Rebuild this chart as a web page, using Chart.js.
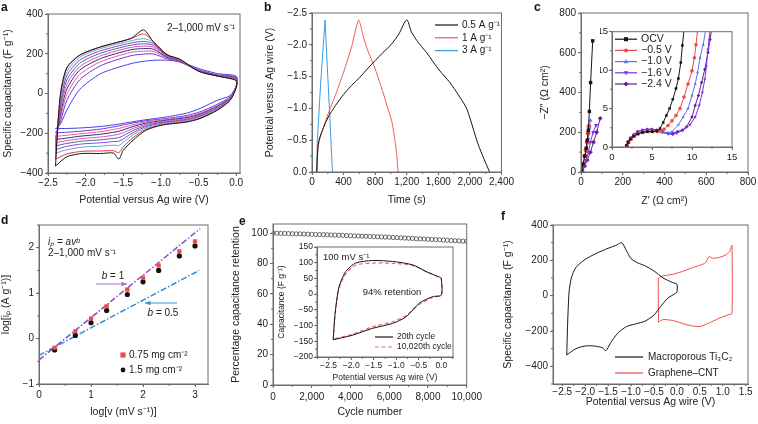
<!DOCTYPE html>
<html>
<head>
<meta charset="utf-8">
<script src="https://cdn.jsdelivr.net/npm/chart.js"></script>
<style>
  body { margin: 0; background: #fff; }
  #fig { position: relative; width: 758px; height: 424px; overflow: hidden; background: #fff; font-family: 'Liberation Sans', Arial, sans-serif; color: #111; }
  #fig canvas { position: absolute; }
  .tag { position: absolute; font-weight: bold; font-size: 12px; line-height: 14px; }
</style>
</head>
<body>
<div id="fig">
  <canvas id="chartA" width="250" height="210" style="left:0;top:0"></canvas>
  <canvas id="chartB" width="253" height="210" style="left:262px;top:0"></canvas>
  <canvas id="chartC" width="221" height="210" style="left:537px;top:0"></canvas>
  <canvas id="chartCin" width="140" height="142" style="left:600px;top:25px"></canvas>
  <canvas id="chartD" width="235" height="214" style="left:0;top:210px"></canvas>
  <canvas id="chartE" width="257" height="214" style="left:228px;top:210px"></canvas>
  <canvas id="chartEin" width="190" height="145" style="left:275px;top:240px"></canvas>
  <canvas id="chartF" width="258" height="214" style="left:500px;top:210px"></canvas>
  <div class="tag" style="left:1px;top:0">a</div>
  <div class="tag" style="left:264px;top:0">b</div>
  <div class="tag" style="left:534px;top:0">c</div>
  <div class="tag" style="left:1px;top:213px">d</div>
  <div class="tag" style="left:239px;top:214px">e</div>
  <div class="tag" style="left:501px;top:209px">f</div>
</div>
<script>
// a: CV loops, 2-1,000 mV/s (outer -> inner)
const cvUpV = [-2.4, -2.37, -2.33, -2.25, -2.08, -1.8, -1.4, -1.23, -1.1, -0.92, -0.75, -0.5, -0.25, 0];
const cvLowV = [0, -0.08, -0.25, -0.48, -0.65, -0.85, -1.0, -1.2, -1.37, -1.5, -1.56, -1.63, -1.8, -2.05, -2.25, -2.4];
const cvUp = [
    [-365, -170, 10, 130, 193, 235, 277, 320, 260, 195, 173, 112, 88, 65],
    [-330, -160, 5, 128, 192, 234, 276, 300, 262, 196, 172, 112, 88, 66],
    [-300, -165, -15, 110, 182, 226, 265, 276, 258, 194, 170, 112, 88, 68],
    [-282, -170, -35, 90, 168, 215, 254, 262, 250, 192, 168, 113, 89, 70],
    [-264, -175, -55, 68, 152, 203, 243, 250, 242, 190, 166, 113, 89, 72],
    [-248, -178, -75, 45, 135, 190, 232, 238, 233, 187, 164, 114, 90, 74],
    [-232, -180, -95, 22, 117, 176, 220, 226, 223, 183, 162, 115, 91, 77],
    [-216, -180, -115, -5, 95, 160, 207, 213, 212, 179, 160, 117, 92, 80],
    [-198, -178, -135, -35, 68, 140, 190, 198, 199, 175, 158, 120, 94, 83],
    [-176, -170, -150, -84, 20, 100, 150, 162, 167, 168, 160, 126, 100, 87]
];
const cvLow = [
    [30, -34, -84, -126, -143, -152, -160, -185, -235, -286, -330, -300, -302, -302, -318, -365],
    [31, -32, -82, -124, -141, -150, -158, -180, -222, -268, -298, -288, -289, -291, -304, -330],
    [32, -30, -79, -120, -137, -146, -154, -173, -208, -245, -262, -260, -265, -270, -283, -300],
    [33, -28, -76, -116, -133, -142, -150, -167, -197, -228, -240, -242, -248, -254, -266, -282],
    [34, -26, -72, -112, -129, -139, -146, -161, -186, -212, -222, -226, -233, -240, -251, -264],
    [35, -24, -68, -108, -125, -135, -142, -155, -176, -197, -205, -210, -219, -227, -237, -248],
    [36, -22, -64, -104, -121, -131, -138, -149, -166, -183, -190, -195, -205, -214, -224, -232],
    [37, -20, -60, -99, -116, -127, -134, -143, -157, -170, -176, -181, -192, -202, -210, -216],
    [38, -16, -54, -92, -110, -122, -129, -137, -148, -158, -163, -168, -179, -189, -195, -198],
    [40, -10, -34, -75, -98, -113, -122, -132, -142, -150, -154, -158, -166, -173, -176, -176]
];
const cvColors = ['#151515', '#e23a34', '#62a6da', '#9140d2', '#4d6890', '#e04bc4', '#2b2d6e', '#f2569c', '#6b35e2', '#3b43e6'];

// b: galvanostatic charge/discharge
const gcdLabels = ['0.5 A g\u207B\u00B9', '1 A g\u207B\u00B9', '3 A g\u207B\u00B9'];
const gcdColors = ['#151515', '#ee5a5a', '#3d9be0'];
const gcdT1 = [60, 75, 100, 200, 300, 400, 500, 600, 700, 800, 900, 1000, 1100, 1200, 1260, 1350, 1450, 1600, 1750, 1850, 1950, 2000, 2100, 2180, 2250];
const gcdV1 = [0, -0.4, -0.55, -0.85, -1.05, -1.22, -1.36, -1.48, -1.62, -1.75, -1.88, -2.0, -2.17, -2.39, -2.2, -2.03, -1.88, -1.62, -1.4, -1.22, -1.02, -0.85, -0.45, -0.2, 0];
const gcdT2 = [60, 85, 200, 300, 400, 500, 590, 650, 700, 800, 900, 960, 1010, 1050, 1075, 1090];
const gcdV2 = [0, -0.45, -0.9, -1.22, -1.57, -1.96, -2.39, -2.13, -1.93, -1.62, -1.25, -1.0, -0.8, -0.5, -0.25, 0];
const gcdT3 = [60, 68, 110, 165, 200, 230, 259];
const gcdV3 = [0, -0.5, -1.4, -2.39, -1.5, -0.75, 0];

// c: Nyquist plots
const eisLabels = ['OCV', '\u22120.5 V', '\u22121.0 V', '\u22121.6 V', '\u22122.4 V'];
const eisColors = ['#151515', '#ec4a44', '#5b72f2', '#7b2ff0', '#6c1d93'];
const eisMarkers = ['rect', 'circle', 'triangle', 'triangle', 'rectRot'];
const eisRot = [0, 0, 0, 180, 0];
const eisX = [
    [3, 10, 18, 25, 30, 35, 40, 46, 56],
    [3, 10, 18, 24, 30, 34, 38],
    [4, 12, 20, 28, 35, 40, 45],
    [5, 15, 25, 35, 45, 58, 72],
    [6, 18, 30, 45, 60, 75, 92]
];
const eisY = [
    [5, 40, 80, 120, 160, 210, 305, 450, 660],
    [5, 40, 80, 110, 150, 195, 230],
    [5, 40, 80, 120, 170, 220, 260],
    [5, 30, 60, 100, 150, 200, 235],
    [5, 30, 60, 100, 150, 200, 270]
];
const zoomX = [
    [1.8, 2.0, 2.3, 2.7, 3.2, 3.8, 4.4, 5.0, 5.6, 6.0, 6.4, 6.8, 7.2, 7.6, 8.0, 8.3, 8.6, 8.8, 9.0],
    [1.9, 2.1, 2.4, 2.8, 3.3, 3.9, 4.5, 5.1, 5.7, 6.1, 6.5, 7.0, 7.5, 8.0, 8.5, 9.0, 9.5, 10.0, 10.3, 10.5, 10.7],
    [1.9, 2.1, 2.4, 2.8, 3.3, 3.9, 4.5, 5.1, 5.7, 6.2, 6.8, 7.5, 8.3, 8.9, 9.5, 10.0, 10.4, 10.7, 11.0, 11.4, 11.7],
    [1.8, 2.0, 2.3, 2.7, 3.2, 3.8, 4.4, 5.0, 5.6, 6.3, 7.0, 7.6, 8.1, 8.9, 9.75, 10.4, 10.9, 11.3, 11.6, 11.8, 12.0, 12.25],
    [1.8, 2.0, 2.3, 2.7, 3.2, 3.8, 4.4, 5.0, 5.6, 6.3, 7.0, 7.6, 8.2, 8.8, 9.3, 10.0, 10.4, 10.8, 11.2, 11.6, 12.0, 12.25, 12.45]
];
const zoomY = [
    [0.2, 0.6, 1.0, 1.4, 1.7, 1.9, 2.0, 2.0, 2.1, 2.4, 3.2, 4.1, 5.0, 6.2, 7.6, 8.9, 11.0, 13.2, 15.2],
    [0.2, 0.6, 1.0, 1.4, 1.7, 1.9, 2.0, 2.0, 2.0, 2.1, 2.3, 2.8, 3.4, 4.1, 5.0, 6.5, 8.2, 9.9, 11.6, 13.3, 15.2],
    [0.2, 0.6, 1.1, 1.5, 1.8, 2.0, 2.1, 2.1, 2.0, 1.9, 1.8, 2.0, 2.9, 3.9, 5.0, 6.7, 8.2, 9.7, 11.6, 13.3, 15.2],
    [0.2, 0.7, 1.2, 1.6, 2.0, 2.2, 2.3, 2.3, 2.2, 1.9, 1.7, 1.6, 1.8, 2.2, 2.9, 3.9, 5.4, 7.1, 8.8, 10.5, 12.7, 15.2],
    [0.2, 0.7, 1.2, 1.6, 2.0, 2.2, 2.3, 2.3, 2.2, 2.0, 1.8, 1.8, 2.0, 2.2, 2.6, 3.9, 5.4, 6.7, 8.4, 10.1, 12.3, 14.0, 15.2]
];

// d: peak current vs scan rate
const logScan = [0.301, 0.699, 1, 1.301, 1.699, 2, 2.301, 2.699, 3];
const ipThin = [-0.2, 0.16, 0.44, 0.71, 1.08, 1.34, 1.61, 1.92, 2.14];
const ipThick = [-0.25, 0.07, 0.35, 0.62, 0.97, 1.25, 1.5, 1.82, 2.04];
const fitOneX = [0, 3.1];
const fitOneY = [-0.47, 2.42];
const fitHalfX = [0, 3.08];
const fitHalfY = [-0.37, 1.5];

// e: cycling stability + inset CVs
const cycles = [0, 200, 400, 600, 800, 1000, 1200, 1400, 1600, 1800, 2000, 2200, 2400, 2600, 2800, 3000, 3200, 3400, 3600, 3800, 4000, 4200, 4400, 4600, 4800, 5000, 5200, 5400, 5600, 5800, 6000, 6200, 6400, 6600, 6800, 7000, 7200, 7400, 7600, 7800, 8000, 8200, 8400, 8600, 8800, 9000, 9200, 9400, 9600, 9800, 10000];
const retention = [100.0, 99.9, 99.8, 99.8, 99.7, 99.6, 99.5, 99.5, 99.4, 99.3, 99.2, 99.1, 99.0, 99.0, 98.9, 98.8, 98.7, 98.6, 98.5, 98.4, 98.3, 98.2, 98.1, 98.0, 97.9, 97.8, 97.7, 97.6, 97.5, 97.4, 97.3, 97.1, 97.0, 96.9, 96.7, 96.6, 96.5, 96.3, 96.2, 96.1, 96.0, 95.8, 95.7, 95.6, 95.4, 95.3, 95.1, 95.0, 94.9, 94.7, 94.6];
const insetV = [-2.4, -2.38, -2.35, -2.27, -2.12, -1.9, -1.53, -1.08, -0.63, -0.34, -0.04, 0, 0, -0.19, -0.49, -0.78, -1.08, -1.53, -1.98, -2.4];
const insetC20 = [-145, -100, -50, 24, 72, 99, 107, 104, 93, 72, 54, 50, -3, -8, -29, -72, -93, -109, -131, -145];
const insetC10020 = [-145, -105, -55, 18, 65, 92, 99, 98, 91, 72, 54, 50, -3, -10, -33, -68, -88, -104, -128, -143];

// f: Ti3C2 vs graphene-CNT
const tiV = [-2.4, -2.38, -2.35, -2.3, -2.2, -2.0, -1.75, -1.5, -1.3, -1.2, -1.1, -1.0, -0.85, -0.7, -0.5, -0.3, -0.1, 0, 0, -0.05, -0.2, -0.35, -0.5, -0.7, -0.9, -1.1, -1.3, -1.45, -1.55, -1.62, -1.8, -2.0, -2.2, -2.4];
const tiC = [-335, -150, 20, 100, 160, 205, 240, 268, 288, 300, 255, 210, 185, 170, 140, 100, 75, 65, 20, 10, -15, -60, -110, -145, -160, -175, -215, -270, -312, -295, -285, -285, -300, -335];
const gcV = [-0.4, -0.4, -0.3, -0.1, 0.1, 0.3, 0.5, 0.62, 0.7, 0.78, 0.9, 1.05, 1.15, 1.2, 1.2, 1.1, 0.9, 0.7, 0.5, 0.3, 0.1, -0.1, -0.3, -0.4];
const gcC = [-150, 100, 112, 120, 135, 155, 172, 185, 222, 212, 215, 228, 250, 285, -100, -110, -130, -155, -175, -170, -155, -140, -135, -150];

const FONT = "'Liberation Sans', Arial, sans-serif";
const FRAME = '#6d6d6d';

Chart.defaults.font.family = FONT;
Chart.defaults.font.size = 10;
Chart.defaults.color = '#222';
Chart.defaults.animation = false;
Chart.defaults.responsive = false;
Chart.defaults.plugins.legend.display = false;
Chart.defaults.plugins.tooltip.enabled = false;

function pts(xs, ys) {
    return xs.map((x, i) => ({ x: x, y: ys[i] }));
}

function fmt(v, dec) {
    const s = dec ? Math.abs(v).toFixed(dec) : Math.abs(v).toLocaleString('en-US');
    return (v < 0 ? '\u2212' : '') + s;
}

function axis(o) {
    return {
        type: 'linear',
        min: o.min,
        max: o.max,
        reverse: !!o.reverse,
        border: { display: true, color: FRAME, width: 1 },
        grid: { display: true, drawOnChartArea: false, drawTicks: true, tickLength: o.tick ?? 3, color: FRAME },
        ticks: {
            stepSize: o.step, includeBounds: false, padding: o.pad ?? 2, autoSkip: false, maxRotation: 0,
            font: { size: o.font ?? 10 }, color: '#222',
            callback: v => fmt(v, o.dec)
        },
        title: { display: !!o.title, text: o.title, font: { size: o.tfont ?? 10.5 }, color: '#222', padding: o.tpad ?? 2 },
        afterFit: s => { if (s.isHorizontal()) s.height = o.size; else s.width = o.size; }
    };
}

function frame(mx, my) {
    return {
        id: 'frame',
        afterDraw(chart) {
            const { ctx, chartArea: a, scales: { x, y } } = chart;
            ctx.save();
            ctx.strokeStyle = FRAME;
            ctx.lineWidth = 1;
            ctx.strokeRect(a.left, a.top, a.right - a.left, a.bottom - a.top);
            ctx.beginPath();
            if (mx) {
                for (let v = Math.ceil(x.min / mx) * mx; v <= x.max + 1e-9; v += mx) {
                    const px = x.getPixelForValue(v);
                    ctx.moveTo(px, a.bottom); ctx.lineTo(px, a.bottom + 2);
                }
            }
            if (my) {
                for (let v = Math.ceil(Math.min(y.min, y.max) / my) * my; v <= Math.max(y.min, y.max) + 1e-9; v += my) {
                    const py = y.getPixelForValue(v);
                    ctx.moveTo(a.left, py); ctx.lineTo(a.left - 2, py);
                }
            }
            ctx.stroke();
            ctx.restore();
        }
    };
}

function marker(ctx, style, x, y, r, rot) {
    ctx.beginPath();
    if (style === 'rect') {
        ctx.rect(x - r, y - r, 2 * r, 2 * r);
    } else if (style === 'rectRot') {
        ctx.moveTo(x, y - r * 1.3); ctx.lineTo(x + r * 1.3, y); ctx.lineTo(x, y + r * 1.3); ctx.lineTo(x - r * 1.3, y); ctx.closePath();
    } else if (style === 'triangle') {
        const s = rot ? -1 : 1;
        ctx.moveTo(x, y - s * r * 1.2); ctx.lineTo(x + r * 1.1, y + s * r * 0.8); ctx.lineTo(x - r * 1.1, y + s * r * 0.8); ctx.closePath();
    } else {
        ctx.arc(x, y, r, 0, Math.PI * 2);
    }
    ctx.fill();
}

// text runs: [text, italic]
function drawRuns(ctx, runs, x, y, size, align) {
    const fonts = runs.map(r => (r[1] ? 'italic ' : '') + size + 'px ' + FONT);
    let w = 0;
    runs.forEach((r, i) => { ctx.font = fonts[i]; w += ctx.measureText(r[0]).width; });
    let cx = align === 'center' ? x - w / 2 : x;
    ctx.textAlign = 'left';
    runs.forEach((r, i) => { ctx.font = fonts[i]; ctx.fillText(r[0], cx, y); cx += ctx.measureText(r[0]).width; });
}

function notes(items) {
    return {
        id: 'notes',
        afterDraw(chart) {
            const { ctx, chartArea: a } = chart;
            ctx.save();
            ctx.textBaseline = 'middle';
            items.forEach(it => {
                const x = a.left + it.x;
                const y = a.top + it.y;
                const size = it.size || 10;
                ctx.font = size + 'px ' + FONT;
                ctx.fillStyle = it.color || '#222';
                ctx.strokeStyle = it.color || '#222';
                if (it.kind === 'text') {
                    drawRuns(ctx, it.runs || [[it.text, false]], x, y, size, it.align);
                } else if (it.kind === 'key') {
                    ctx.strokeStyle = it.line;
                    ctx.fillStyle = it.line;
                    ctx.lineWidth = it.width || 1.2;
                    ctx.setLineDash(it.dash || []);
                    ctx.beginPath(); ctx.moveTo(x, y); ctx.lineTo(x + it.len, y); ctx.stroke();
                    ctx.setLineDash([]);
                    if (it.marker) marker(ctx, it.marker, x + it.len / 2, y, it.r || 2, it.rot);
                    ctx.fillStyle = '#222';
                    drawRuns(ctx, [[it.text, false]], x + it.len + it.gap, y, size, 'left');
                } else if (it.kind === 'dot') {
                    marker(ctx, it.marker, x, y, it.r || 2.5, 0);
                    ctx.fillStyle = '#222';
                    drawRuns(ctx, [[it.text, false]], x + it.gap, y, size, 'left');
                } else if (it.kind === 'arrow') {
                    const x2 = a.left + it.x2, y2 = a.top + it.y2;
                    const ang = Math.atan2(y2 - y, x2 - x);
                    ctx.lineWidth = 1;
                    ctx.beginPath(); ctx.moveTo(x, y); ctx.lineTo(x2, y2); ctx.stroke();
                    ctx.beginPath();
                    ctx.moveTo(x2, y2);
                    ctx.lineTo(x2 - 6 * Math.cos(ang - 0.4), y2 - 6 * Math.sin(ang - 0.4));
                    ctx.lineTo(x2 - 6 * Math.cos(ang + 0.4), y2 - 6 * Math.sin(ang + 0.4));
                    ctx.closePath(); ctx.fill();
                }
            });
            ctx.restore();
        }
    };
}

function lineSet(data, color, extra) {
    return Object.assign({ data: data, showLine: true, borderColor: color, backgroundColor: color, borderWidth: 1, pointRadius: 0, tension: 0.25 }, extra || {});
}

// a
new Chart(document.getElementById('chartA'), {
    type: 'scatter',
    data: { datasets: cvUp.map((up, i) => lineSet(pts(cvUpV.concat(cvLowV), up.concat(cvLow[i])), cvColors[i])) },
    options: {
        layout: { padding: { left: 0, right: 10, top: 14, bottom: 0 } },
        scales: {
            x: axis({ min: -2.5, max: 0.05, step: 0.5, dec: 1, title: 'Potential versus Ag wire (V)', size: 37, pad: 1, tpad: 4 }),
            y: axis({ min: -400, max: 400, step: 200, title: 'Specific capacitance (F g\u207B\u00B9)', size: 48, tpad: 2 })
        }
    },
    plugins: [frame(0.25, 100), notes([{ kind: 'text', text: '2\u20131,000 mV s\u207B\u00B9', x: 119, y: 14 }])]
});

// b
new Chart(document.getElementById('chartB'), {
    type: 'scatter',
    data: {
        datasets: [
            lineSet(pts(gcdT1, gcdV1), gcdColors[0], { tension: 0.3 }),
            lineSet(pts(gcdT2, gcdV2), gcdColors[1], { tension: 0.2 }),
            lineSet(pts(gcdT3, gcdV3), gcdColors[2], { tension: 0 })
        ]
    },
    options: {
        layout: { padding: { left: 0, right: 9, top: 13, bottom: 0 } },
        scales: {
            x: axis({ min: 0, max: 2400, step: 400, title: 'Time (s)', size: 38, pad: 1, tpad: 4 }),
            y: axis({ min: -2.5, max: 0, step: 0.5, dec: 1, reverse: true, title: 'Potential versus Ag wire (V)', size: 50, tpad: 2 })
        }
    },
    plugins: [frame(200, 0.25), notes(gcdLabels.map((t, i) => ({ kind: 'key', text: t, line: gcdColors[i], x: 123, y: 12 + i * 12.8, len: 23, gap: 4 })))]
});

// c main
new Chart(document.getElementById('chartC'), {
    type: 'scatter',
    data: {
        datasets: eisX.map((xs, i) => lineSet(pts(xs, eisY[i]), eisColors[i], {
            tension: 0, pointRadius: 2.4, pointStyle: eisMarkers[i], pointRotation: eisRot[i], pointBorderWidth: 0
        }))
    },
    options: {
        layout: { padding: { left: 0, right: 10, top: 13, bottom: 0 } },
        scales: {
            x: axis({ min: 0, max: 800, step: 200, title: 'Z\u2032 (\u03A9 cm\u00B2)', size: 38, pad: 1, tpad: 3 }),
            y: axis({ min: 0, max: 800, step: 200, title: '\u2212Z\u2033 (\u03A9 cm\u00B2)', size: 44, tpad: 2 })
        }
    },
    plugins: [frame(100, 100)]
});

// c inset
new Chart(document.getElementById('chartCin'), {
    type: 'scatter',
    data: {
        datasets: zoomX.map((xs, i) => lineSet(pts(xs, zoomY[i]), eisColors[i], {
            tension: 0, pointRadius: 1.8, pointStyle: eisMarkers[i], pointRotation: eisRot[i], pointBorderWidth: 0
        }))
    },
    options: {
        layout: { padding: { left: 0, right: 8, top: 5, bottom: 0 } },
        scales: {
            x: axis({ min: 0, max: 15, step: 5, size: 20, pad: 2, font: 9.5 }),
            y: axis({ min: 0, max: 15, step: 5, size: 12, pad: 1, font: 9.5 })
        }
    },
    plugins: [frame(2.5, 2.5), notes(eisLabels.map((t, i) => ({
        kind: 'key', text: t, line: eisColors[i], x: 3, y: 7.5 + i * 11.2, len: 22, gap: 4, marker: eisMarkers[i], rot: eisRot[i], r: 2, size: 10.5
    })))]
});

// d
new Chart(document.getElementById('chartD'), {
    type: 'scatter',
    data: {
        datasets: [
            { data: pts(logScan, ipThin), pointStyle: 'rect', pointRadius: 3, backgroundColor: '#ee4a50', borderWidth: 0 },
            { data: pts(logScan, ipThick), pointStyle: 'circle', pointRadius: 2.6, backgroundColor: '#111', borderWidth: 0 },
            lineSet(pts(fitOneX, fitOneY), '#8a47c9', { tension: 0, borderWidth: 1.5, borderDash: [6, 2, 1.5, 2] }),
            lineSet(pts(fitHalfX, fitHalfY), '#2d8fd0', { tension: 0, borderWidth: 1.5, borderDash: [6, 2, 1.5, 2] })
        ]
    },
    options: {
        layout: { padding: { left: 0, right: 27, top: 15, bottom: 0 } },
        scales: {
            x: axis({ min: 0, max: 3.25, step: 1, title: 'log[v (mV s\u207B\u00B9)]', size: 40, pad: 2, tpad: 6 }),
            y: axis({ min: -1, max: 2.5, step: 1, title: 'log[i\u209A (A g\u207B\u00B9)]', size: 39, tpad: 0 })
        }
    },
    plugins: [frame(0.5, 0.5), notes([
        { kind: 'text', runs: [['i\u209A', true], [' = ', false], ['av\u1D47', true]], x: 9, y: 17.5 },
        { kind: 'text', text: '2\u20131,000 mV s\u207B\u00B9', x: 9, y: 28.5 },
        { kind: 'text', runs: [['b', true], [' = 1', false]], x: 74, y: 51, align: 'center' },
        { kind: 'arrow', x: 57, y: 59, x2: 88, y2: 59, color: '#9b6fd2' },
        { kind: 'text', runs: [['b', true], [' = 0.5', false]], x: 124, y: 88, align: 'center' },
        { kind: 'arrow', x: 138, y: 78, x2: 106, y2: 78, color: '#3b93d3' },
        { kind: 'dot', text: '0.75 mg cm\u207B\u00B2', marker: 'rect', color: '#ee4a50', x: 84, y: 130, r: 2.6, gap: 6 },
        { kind: 'dot', text: '1.5 mg cm\u207B\u00B2', marker: 'circle', color: '#111', x: 84, y: 145, r: 2.4, gap: 6 }
    ])]
});

// e main
new Chart(document.getElementById('chartE'), {
    type: 'scatter',
    data: {
        datasets: [{ data: pts(cycles, retention), pointStyle: 'circle', pointRadius: 2.1, borderWidth: 0.7, borderColor: '#333', backgroundColor: 'rgba(255,255,255,0)' }]
    },
    options: {
        layout: { padding: { left: 0, right: 15, top: 14, bottom: 0 } },
        scales: {
            x: axis({ min: 0, max: 10000, step: 2000, title: 'Cycle number', size: 39, pad: 3, tpad: 6 }),
            y: axis({ min: 0, max: 106, step: 20, title: 'Percentage capacitance retention', size: 45, tpad: 2 })
        }
    },
    plugins: [frame(1000, 10)]
});

// e inset
new Chart(document.getElementById('chartEin'), {
    type: 'scatter',
    data: {
        datasets: [
            lineSet(pts(insetV, insetC20), '#151515', { tension: 0.25 }),
            lineSet(pts(insetV, insetC10020), '#ee6a6a', { tension: 0.25, borderDash: [4, 2.5], borderWidth: 1.2 })
        ]
    },
    options: {
        layout: { padding: { left: 0, right: 12, top: 7, bottom: 0 } },
        scales: {
            x: axis({ min: -2.76, max: 0.26, step: 0.5, dec: 1, title: 'Potential versus Ag wire (V)', size: 28, pad: 1, font: 8.5, tfont: 8.5, tpad: 2 }),
            y: axis({ min: -200, max: 150, step: 50, title: 'Capacitance (F g\u207B\u00B9)', size: 42, pad: 1, font: 8.5, tfont: 8.5, tpad: 2 })
        }
    },
    plugins: [frame(0.25, 25), notes([
        { kind: 'text', text: '100 mV s\u207B\u00B9', x: 6, y: 10, size: 9.5 },
        { kind: 'text', text: '94% retention', x: 75, y: 45, align: 'center', size: 9.5 },
        { kind: 'key', text: '20th cycle', line: '#151515', x: 58, y: 90, len: 18, gap: 4, size: 8.5 },
        { kind: 'key', text: '10,020th cycle', line: '#ee6a6a', dash: [4, 2.5], x: 58, y: 100, len: 18, gap: 4, size: 8.5 }
    ])]
});

// f
new Chart(document.getElementById('chartF'), {
    type: 'scatter',
    data: {
        datasets: [
            lineSet(pts(tiV, tiC), '#151515', { tension: 0.25 }),
            lineSet(pts(gcV, gcC), '#ec4a4a', { tension: 0.15 })
        ]
    },
    options: {
        layout: { padding: { left: 0, right: 10, top: 15, bottom: 0 } },
        scales: {
            x: axis({ min: -2.7, max: 1.55, step: 0.5, dec: 1, title: 'Potential versus Ag wire (V)', size: 40, tick: 2, pad: 0, tpad: 16 }),
            y: axis({ min: -500, max: 400, step: 200, title: 'Specific capacitance (F g\u207B\u00B9)', size: 53, tpad: 2 })
        }
    },
    plugins: [frame(0.25, 100), notes([
        { kind: 'key', text: 'Macroporous Ti\u2083C\u2082', line: '#151515', x: 62, y: 132, len: 28, gap: 5 },
        { kind: 'key', text: 'Graphene\u2013CNT', line: '#ec4a4a', x: 62, y: 148, len: 28, gap: 5 }
    ])]
});
</script>
</body>
</html>
